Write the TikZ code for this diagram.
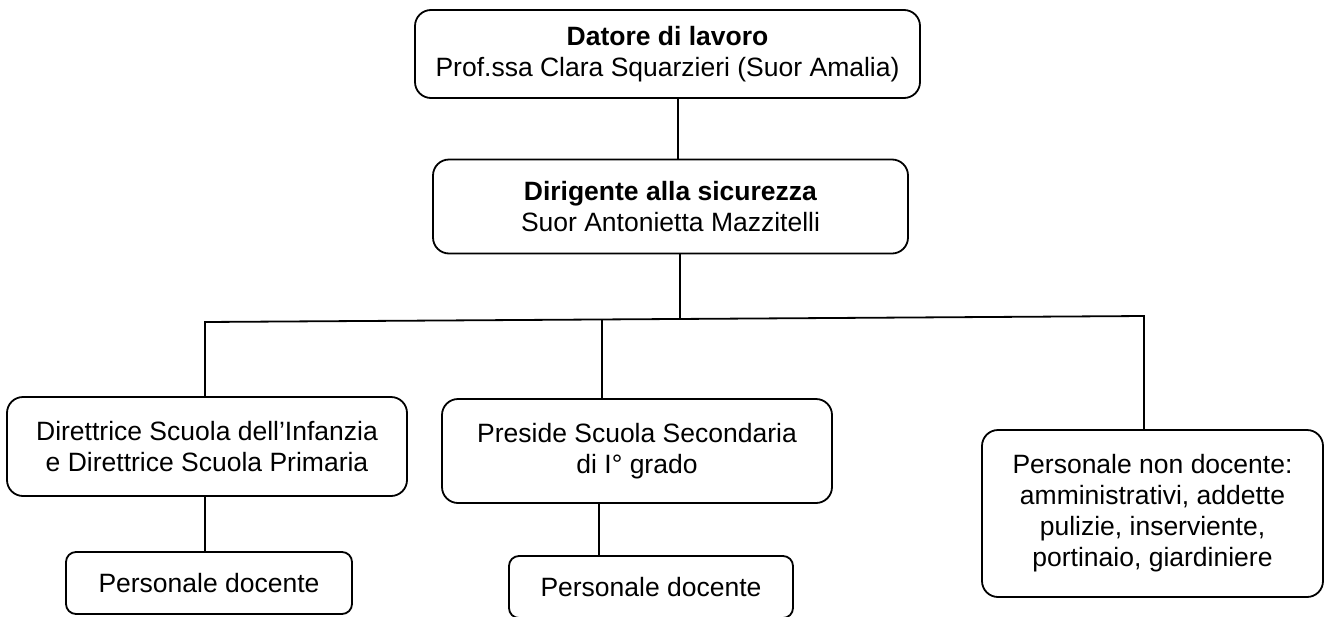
\documentclass[tikz,border=0pt]{standalone}
\usepackage{fontspec}
\setmainfont{Liberation Sans}
\begin{document}
\begin{tikzpicture}[x=1pt,y=-1pt,
  every node/.style={font=\fontsize{26.5}{31}\selectfont},
  box/.style={draw, line width=1.8pt, rounded corners=16pt, align=center, inner sep=0pt},
  smallbox/.style={box, rounded corners=10pt},
  conn/.style={line width=1.8pt}]
\useasboundingbox (0,0) rectangle (1330,616);

\node[box, minimum width=505pt, minimum height=88pt] (datore) at (667.5,54)
  {\textbf{Datore di lavoro}\\Prof.ssa Clara Squarzieri (Suor Amalia)};
\node[box, minimum width=475pt, minimum height=94pt] (dirig) at (670.5,206.5)
  {\textbf{Dirigente alla sicurezza}\\Suor Antonietta Mazzitelli};
\node[box, minimum width=400pt, minimum height=99pt] (dir) at (207,446.5)
  {Direttrice Scuola dell’Infanzia\\e Direttrice Scuola Primaria};
\node[box, minimum width=390pt, minimum height=104pt] (pres) at (637,451)
  {Preside Scuola Secondaria\\di I° grado};
\node[box, minimum width=341pt, minimum height=167pt] (nd) at (1152.5,513.5)
  {Personale non docente:\\amministrativi, addette\\pulizie, inserviente,\\portinaio, giardiniere};
\node[smallbox, minimum width=286pt, minimum height=62pt] (pd1) at (209,583)
  {Personale docente};
\node[smallbox, minimum width=284pt, minimum height=62pt] (pd2) at (651,587)
  {Personale docente};

\coordinate (c1) at (678,0);
\coordinate (c2) at (680,0);
\coordinate (c3) at (599,0);
\coordinate (busL) at (205,322);
\coordinate (busR) at (1144,316);
\coordinate (bj) at (680,319);
\coordinate (bp) at (602,320);

\draw[conn] (datore.south -| c1) -- (dirig.north -| c1);
\draw[conn] (dirig.south -| c2) -- (bj);
\draw[conn] (busL |- dir.north) -- (busL) -- (busR) -- (busR |- nd.north);
\draw[conn] (bp) -- (bp |- pres.north);
\draw[conn] (busL |- dir.south) -- (busL |- pd1.north);
\draw[conn] (pres.south -| c3) -- (pd2.north -| c3);
\end{tikzpicture}
\end{document}
